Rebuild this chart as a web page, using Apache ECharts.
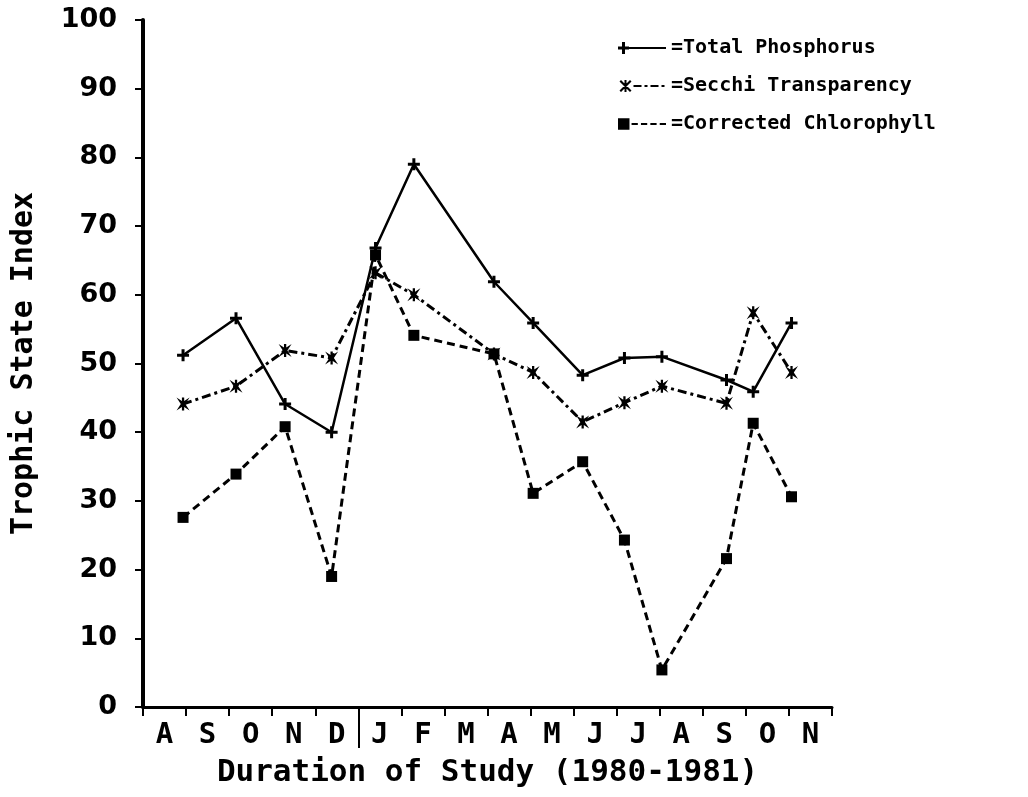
<!DOCTYPE html>
<html>
<head>
<meta charset="utf-8">
<title>Trophic State Index</title>
<script src="https://cdn.jsdelivr.net/npm/echarts@6/dist/echarts.min.js"></script>
<style>
  html, body { margin: 0; padding: 0; background: #fff; }
  #chart { width: 1028px; height: 797px; }
</style>
</head>
<body>
<div id="chart"></div>
<script>
// month letters, Aug 1980 .. Nov 1981
var monthLabels = ['A', 'S', 'O', 'N', 'D', 'J', 'F', 'M', 'A', 'M', 'J', 'J', 'A', 'S', 'O', 'N']
// sampling dates, in months since 1 Aug 1980
var sampleMonths = [0.93, 2.16, 3.30, 4.38, 5.40, 6.29, 8.15, 9.06, 10.21, 11.18, 12.05, 13.55, 14.17, 15.06]
var totalPhosphorus = [51.2, 56.6, 44.1, 40.0, 66.8, 79.0, 61.9, 55.9, 48.3, 50.8, 51.0, 47.6, 45.9, 55.9]
var secchiTransparency = [44.1, 46.7, 51.9, 50.8, 63.2, 60.0, 51.4, 48.7, 41.5, 44.3, 46.7, 44.2, 57.4, 48.7]
var correctedChlorophyll = [27.6, 33.9, 40.8, 19.0, 65.8, 54.1, 51.4, 31.1, 35.7, 24.3, 5.4, 21.6, 41.3, 30.6]
var yearBreak = [5]

var FONT = 'DejaVu Sans Mono'

function pairs(ys) {
  return ys.map(function (y, i) { return [sampleMonths[i], y] })
}

// marker shapes
var plusPath = 'path://M3,0 H5 V3 H8 V5 H5 V8 H3 V5 H0 V3 H3 Z'
var starPath = 'path://M0,0 L4,2.6 L8,0 L5.4,4 L8,8 L4,5.4 L0,8 L2.6,4 Z M3.3,0 H4.7 V8 H3.3 Z'

// legend samples: marker at the left end, then the line pattern (48 x 12)
var tpIcon = 'path://M4,0 H7 V4.5 H11 V7.5 H7 V12 H4 V7.5 H0 V4.5 H4 Z M11,5 H48 V7 H11 Z'
var sdIcon = 'path://M0,1.5 L1.5,0 L12,10.5 L10.5,12 Z M10.5,0 L12,1.5 L1.5,12 L0,10.5 Z M5,0 H7 V12 H5 Z' +
  ' M14,5 H22 V7 H14 Z M25,5 H28 V7 H25 Z M31,5 H39 V7 H31 Z M42,5 H45 V7 H42 Z'
var chlIcon = 'path://M0,0.5 H11 V11.5 H0 Z M13,5 H19 V7 H13 Z M22,5 H28 V7 H22 Z M31,5 H37 V7 H31 Z M40,5 H46 V7 H40 Z'

var chart = echarts.init(document.getElementById('chart'))
chart.setOption({
  backgroundColor: '#fff',
  animation: false,
  legend: {
    orient: 'vertical',
    left: 613,
    top: 33,
    itemWidth: 48,
    itemHeight: 12,
    itemGap: 18,
    formatter: function (name) { return '=' + name },
    textStyle: { fontFamily: FONT, fontWeight: 'bold', fontSize: 20, color: '#000' },
    data: [
      { name: 'Total Phosphorus', icon: tpIcon },
      { name: 'Secchi Transparency', icon: sdIcon },
      { name: 'Corrected Chlorophyll', icon: chlIcon }
    ]
  },
  grid: { left: 143, right: 196, top: 20, bottom: 90, containLabel: false, outerBoundsMode: 'none' },
  xAxis: [
    {
      type: 'value',
      min: 0,
      max: 16,
      interval: 1,
      position: 'bottom',
      name: 'Duration of Study (1980-1981)',
      nameLocation: 'middle',
      nameGap: 50,
      nameTextStyle: { fontFamily: FONT, fontWeight: 'bold', fontSize: 31, color: '#000' },
      axisLine: { lineStyle: { color: '#000', width: 3 } },
      axisTick: { length: 9, lineStyle: { color: '#000', width: 2 } },
      axisLabel: {
        customValues: monthLabels.map(function (m, i) { return i + 0.5 }),
        formatter: function (v) { return monthLabels[Math.floor(v)] },
        margin: 14,
        fontFamily: FONT,
        fontWeight: 'bold',
        fontSize: 29,
        color: '#000'
      },
      splitLine: { show: false }
    },
    {
      // long tick marking the 1980/1981 break
      type: 'value',
      min: 0,
      max: 16,
      position: 'bottom',
      axisLine: { show: false },
      axisTick: { customValues: yearBreak, length: 41, lineStyle: { color: '#000', width: 2 } },
      axisLabel: { show: false },
      splitLine: { show: false }
    }
  ],
  yAxis: {
    type: 'value',
    min: 0,
    max: 100,
    interval: 10,
    name: 'Trophic State Index',
    nameLocation: 'middle',
    nameGap: 104,
    nameRotate: 90,
    nameTextStyle: { fontFamily: FONT, fontWeight: 'bold', fontSize: 30, color: '#000' },
    axisLine: { show: true, lineStyle: { color: '#000', width: 4 } },
    axisTick: { show: true, length: 8, lineStyle: { color: '#000', width: 2 } },
    axisLabel: { margin: 26, fontFamily: 'DejaVu Sans', fontWeight: 'bold', fontSize: 27, color: '#000' },
    splitLine: { show: false }
  },
  series: [
    {
      name: 'Total Phosphorus',
      type: 'line',
      data: pairs(totalPhosphorus),
      symbol: plusPath,
      symbolSize: 12,
      itemStyle: { color: '#000' },
      lineStyle: { color: '#000', width: 2.5, type: 'solid' }
    },
    {
      name: 'Secchi Transparency',
      type: 'line',
      data: pairs(secchiTransparency),
      symbol: starPath,
      symbolSize: 13,
      itemStyle: { color: '#000' },
      lineStyle: { color: '#000', width: 3, type: [9, 4, 3, 4] }
    },
    {
      name: 'Corrected Chlorophyll',
      type: 'line',
      data: pairs(correctedChlorophyll),
      symbol: 'rect',
      symbolSize: 11,
      itemStyle: { color: '#000' },
      lineStyle: { color: '#000', width: 3, type: [8, 5] }
    }
  ]
})
</script>
</body>
</html>
